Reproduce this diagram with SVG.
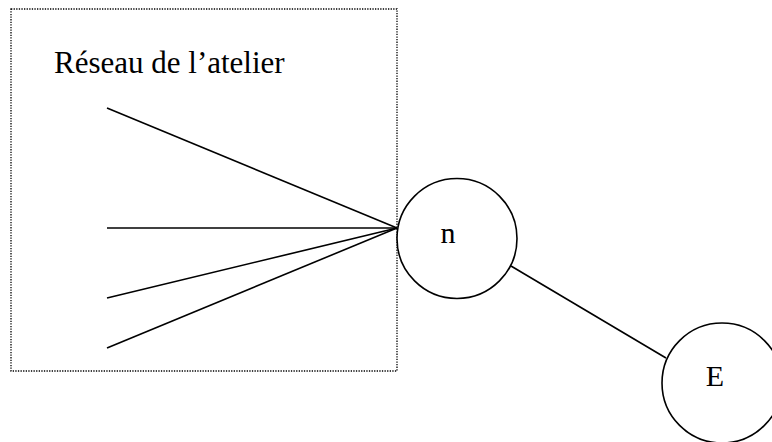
<svg xmlns="http://www.w3.org/2000/svg" width="772" height="442" viewBox="0 0 772 442">
<style>
.t{font-family:"Liberation Serif","Times New Roman",serif;fill:#000}
.ln{stroke:#000;stroke-width:1.6;fill:none}
.nd{stroke:#000;stroke-width:1.6;fill:#fff}
</style>
<rect width="772" height="442" fill="#fff"/>
<g id="atelier">
<rect x="11" y="9" width="386" height="362" fill="none" stroke="#000" stroke-width="1.3" stroke-dasharray="1.3 1.3"/>
<text class="t" x="54" y="73" font-size="31">Réseau de l’atelier</text>
</g>
<g id="connectors">
<line class="ln" x1="107" y1="108" x2="397" y2="228"/>
<line class="ln" x1="107" y1="228" x2="397" y2="228"/>
<line class="ln" x1="107" y1="298" x2="397" y2="228"/>
<line class="ln" x1="107" y1="348" x2="397" y2="228"/>
<line class="ln" x1="511" y1="266" x2="666" y2="358"/>
</g>
<g id="node-n">
<circle class="nd" cx="457" cy="238.5" r="60"/>
<text class="t" x="448" y="243" font-size="30" text-anchor="middle">n</text>
</g>
<g id="node-E">
<circle class="nd" cx="722" cy="383" r="60"/>
<text class="t" x="715" y="386" font-size="30" text-anchor="middle">E</text>
</g>
</svg>
